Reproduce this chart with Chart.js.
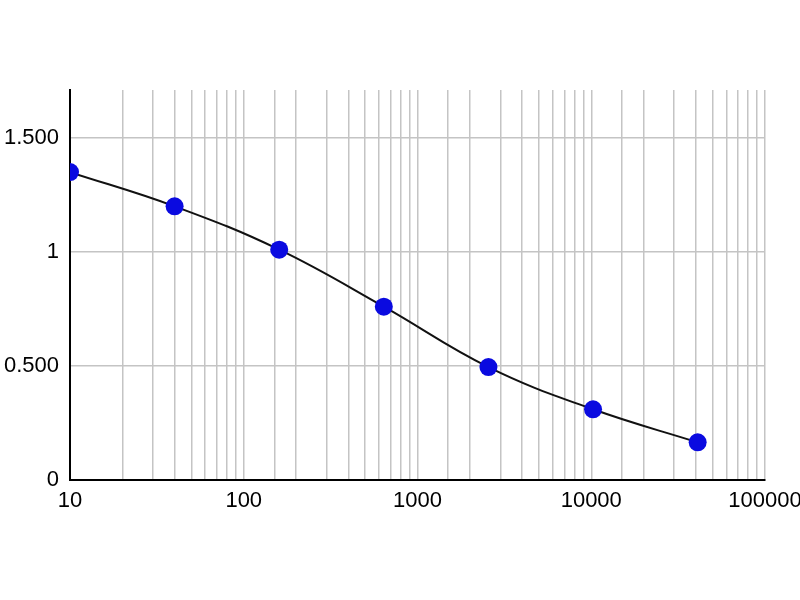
<!DOCTYPE html>
<html>
<head>
<meta charset="utf-8">
<script src="https://cdn.jsdelivr.net/npm/chart.js@4"></script>
<style>
  html, body { margin: 0; padding: 0; background: #fff; }
  #wrap { width: 800px; height: 600px; }
</style>
</head>
<body>
<div id="wrap"><canvas id="curve" width="800" height="600"></canvas></div>
<script>
// standard curve: 4x dilution series vs absorbance
const concentrations = [10, 40, 160, 640, 2560, 10240, 40960];
const absorbance = [1.35, 1.20, 1.01, 0.76, 0.495, 0.31, 0.165];

const yTicks = [0, 0.5, 1, 1.5];
const yTickLabels = ['0', '0.500', '1', '1.500'];
const xMajorLabels = [10, 100, 1000, 10000, 100000];

const gridColor = '#c4c4c4';
const font = { family: 'Liberation Sans', size: 22 };

new Chart(document.getElementById('curve'), {
    type: 'line',
    data: {
        datasets: [{
            data: concentrations.map((c, i) => ({ x: c, y: absorbance[i] })),
            borderColor: '#111',
            borderWidth: 2,
            tension: 0.4,
            fill: false,
            pointRadius: 9,
            pointHoverRadius: 9,
            pointBackgroundColor: '#0a0ae0',
            pointBorderWidth: 0
        }]
    },
    options: {
        responsive: false,
        animation: false,
        layout: { padding: { left: 0, right: 0, top: 90, bottom: 0 } },
        plugins: { legend: { display: false }, tooltip: { enabled: false } },
        scales: {
            x: {
                type: 'logarithmic',
                min: 10, max: 100000,
                afterFit: s => { s.height = 120; s.paddingRight = 35; s.paddingLeft = 0; },
                grid: { color: gridColor, lineWidth: 1.5, drawTicks: false },
                border: { color: '#000', width: 2 },
                ticks: {
                    autoSkip: false, maxRotation: 0, padding: 8,
                    color: '#000', font,
                    callback: v => xMajorLabels.includes(v) ? String(v) : ''
                }
            },
            y: {
                min: 0, max: 1.71,
                afterFit: s => { s.width = 70; },
                afterBuildTicks: s => { s.ticks = yTicks.map(v => ({ value: v })); },
                grid: { color: gridColor, lineWidth: 1.5, drawTicks: false },
                border: { color: '#000', width: 2 },
                ticks: {
                    padding: 11, color: '#000', font,
                    callback: v => yTickLabels[yTicks.indexOf(v)]
                }
            }
        }
    }
});
</script>
</body>
</html>
